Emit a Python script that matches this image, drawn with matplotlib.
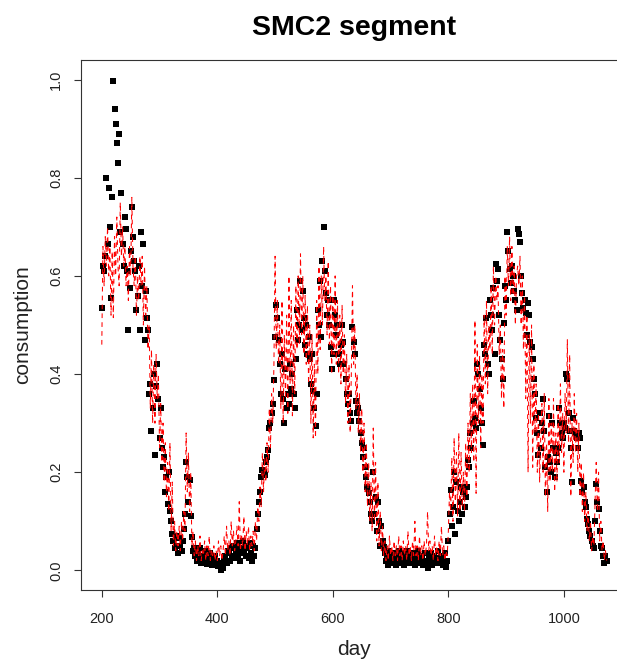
import numpy as np
import matplotlib
matplotlib.use("Agg")
import matplotlib.pyplot as plt

plt.rcParams['font.family'] = ['Liberation Sans', 'DejaVu Sans']

# day grid (every second day)
days = np.arange(200, 1076, 2)

# observed consumption (black squares)
observed = [
    0.535, 0.62, 0.61, 0.64, 0.80, 0.665, 0.78, 0.70, 0.555, 0.76,
    0.998, 0.94, 0.91, 0.87, 0.83, 0.89, 0.69, 0.77, 0.665, 0.62,
    0.72, 0.695, 0.61, 0.49, 0.575, 0.65, 0.74, 0.68, 0.63, 0.61,
    0.53, 0.56, 0.62, 0.49, 0.69, 0.58, 0.665, 0.47, 0.57, 0.515,
    0.49, 0.36, 0.38, 0.285, 0.33, 0.40, 0.235, 0.375, 0.42, 0.35,
    0.27, 0.33, 0.25, 0.21, 0.23, 0.16, 0.19, 0.135, 0.20, 0.12,
    0.10, 0.075, 0.06, 0.045, 0.07, 0.05, 0.035, 0.065, 0.05, 0.04,
    0.06, 0.085, 0.115, 0.22, 0.19, 0.14, 0.185, 0.11, 0.067, 0.04,
    0.045, 0.03, 0.02, 0.035, 0.025, 0.045, 0.015, 0.03, 0.02, 0.04,
    0.025, 0.012, 0.03, 0.018, 0.035, 0.01, 0.025, 0.015, 0.03, 0.01,
    0.02, 0.008, 0.015, 0.0, 0.012, 0.005, 0.02, 0.03, 0.015, 0.04,
    0.035, 0.02, 0.045, 0.03, 0.05, 0.025, 0.04, 0.055, 0.03, 0.045,
    0.02, 0.04, 0.06, 0.035, 0.05, 0.03, 0.045, 0.025, 0.055, 0.035,
    0.02, 0.05, 0.03, 0.045, 0.085, 0.115, 0.14, 0.16, 0.19, 0.205,
    0.20, 0.195, 0.22, 0.23, 0.245, 0.29, 0.30, 0.32, 0.34, 0.387,
    0.475, 0.54, 0.515, 0.47, 0.42, 0.36, 0.44, 0.35, 0.30, 0.41,
    0.33, 0.36, 0.34, 0.42, 0.37, 0.40, 0.36, 0.33, 0.43, 0.53,
    0.47, 0.50, 0.59, 0.49, 0.57, 0.515, 0.46, 0.50, 0.44, 0.475,
    0.43, 0.38, 0.44, 0.365, 0.33, 0.295, 0.36, 0.53, 0.50, 0.59,
    0.475, 0.63, 0.70, 0.61, 0.565, 0.52, 0.55, 0.50, 0.455, 0.41,
    0.44, 0.55, 0.52, 0.48, 0.50, 0.44, 0.42, 0.46, 0.50, 0.465,
    0.42, 0.39, 0.36, 0.34, 0.36, 0.32, 0.305, 0.495, 0.465, 0.44,
    0.345, 0.32, 0.33, 0.305, 0.28, 0.26, 0.23, 0.25, 0.21, 0.19,
    0.17, 0.157, 0.14, 0.115, 0.10, 0.20, 0.115, 0.15, 0.08, 0.14,
    0.10, 0.05, 0.09, 0.06, 0.047, 0.035, 0.02, 0.03, 0.01, 0.04,
    0.025, 0.015, 0.03, 0.02, 0.035, 0.01, 0.025, 0.04, 0.015, 0.03,
    0.02, 0.035, 0.01, 0.025, 0.04, 0.02, 0.03, 0.015, 0.025, 0.035,
    0.02, 0.01, 0.03, 0.02, 0.04, 0.015, 0.025, 0.03, 0.01, 0.02,
    0.035, 0.015, 0.005, 0.025, 0.02, 0.035, 0.01, 0.025, 0.03, 0.015,
    0.02, 0.04, 0.025, 0.015, 0.03, 0.01, 0.02, 0.035, 0.006, 0.02,
    0.06, 0.115, 0.163, 0.09, 0.13, 0.20, 0.075, 0.18, 0.12, 0.10,
    0.14, 0.17, 0.115, 0.16, 0.13, 0.15, 0.17, 0.224, 0.21, 0.28,
    0.25, 0.30, 0.345, 0.31, 0.29, 0.42, 0.40, 0.37, 0.33, 0.30,
    0.255, 0.46, 0.44, 0.515, 0.42, 0.40, 0.55, 0.52, 0.49, 0.575,
    0.44, 0.625, 0.59, 0.615, 0.52, 0.47, 0.43, 0.39, 0.505, 0.58,
    0.55, 0.69, 0.65, 0.615, 0.585, 0.62, 0.60, 0.57, 0.55, 0.53,
    0.695, 0.685, 0.67, 0.60, 0.565, 0.535, 0.55, 0.525, 0.48, 0.545,
    0.52, 0.465, 0.455, 0.43, 0.39, 0.36, 0.31, 0.28, 0.235, 0.32,
    0.25, 0.30, 0.35, 0.285, 0.21, 0.16, 0.23, 0.315, 0.22, 0.20,
    0.30, 0.25, 0.19, 0.24, 0.22, 0.25, 0.33, 0.30, 0.28, 0.27,
    0.30, 0.29, 0.40, 0.39, 0.32, 0.285, 0.25, 0.18, 0.31, 0.285,
    0.28, 0.27, 0.25, 0.28, 0.27, 0.183, 0.16, 0.17, 0.14, 0.13,
    0.105, 0.095, 0.08, 0.07, 0.06, 0.05, 0.045, 0.10, 0.177, 0.14,
    0.125, 0.08, 0.05, 0.045, 0.03, 0.016, 0.03, 0.02,
]

# SMC2 segment prediction (red dashed line)
predicted = [
    0.46, 0.66, 0.58, 0.68, 0.62, 0.70, 0.60, 0.66, 0.52, 0.65,
    0.515, 0.68, 0.60, 0.72, 0.62, 0.58, 0.75, 0.64, 0.70, 0.62,
    0.66, 0.58, 0.62, 0.55, 0.66, 0.60, 0.76, 0.62, 0.58, 0.64,
    0.52, 0.60, 0.55, 0.64, 0.58, 0.64, 0.50, 0.62, 0.52, 0.58,
    0.45, 0.50, 0.33, 0.45, 0.30, 0.42, 0.30, 0.44, 0.35, 0.40,
    0.25, 0.34, 0.22, 0.30, 0.18, 0.26, 0.15, 0.22, 0.12, 0.26,
    0.08, 0.18, 0.05, 0.10, 0.04, 0.08, 0.05, 0.09, 0.04, 0.10,
    0.06, 0.12, 0.08, 0.28, 0.16, 0.24, 0.12, 0.20, 0.05, 0.08,
    0.03, 0.06, 0.02, 0.05, 0.03, 0.07, 0.02, 0.04, 0.03, 0.06,
    0.02, 0.05, 0.03, 0.07, 0.02, 0.04, 0.03, 0.05, 0.02, 0.04,
    0.02, 0.06, 0.03, 0.05, 0.02, 0.04, 0.07, 0.03, 0.09, 0.04,
    0.06, 0.03, 0.10, 0.05, 0.08, 0.04, 0.06, 0.09, 0.05, 0.14,
    0.04, 0.07, 0.05, 0.11, 0.04, 0.08, 0.05, 0.09, 0.04, 0.07,
    0.05, 0.08, 0.04, 0.10, 0.06, 0.13, 0.10, 0.17, 0.13, 0.24,
    0.16, 0.23, 0.18, 0.26, 0.20, 0.33, 0.25, 0.36, 0.30, 0.42,
    0.64, 0.45, 0.55, 0.42, 0.50, 0.33, 0.55, 0.30, 0.48, 0.35,
    0.52, 0.32, 0.60, 0.38, 0.55, 0.315, 0.50, 0.36, 0.58, 0.45,
    0.60, 0.46, 0.645, 0.48, 0.60, 0.44, 0.56, 0.42, 0.54, 0.38,
    0.50, 0.30, 0.48, 0.27, 0.42, 0.27, 0.55, 0.40, 0.62, 0.45,
    0.60, 0.50, 0.66, 0.55, 0.60, 0.48, 0.63, 0.46, 0.58, 0.40,
    0.56, 0.44, 0.60, 0.42, 0.55, 0.40, 0.52, 0.38, 0.54, 0.40,
    0.48, 0.34, 0.44, 0.30, 0.42, 0.28, 0.40, 0.58, 0.42, 0.50,
    0.33, 0.40, 0.28, 0.36, 0.24, 0.33, 0.20, 0.30, 0.16, 0.26,
    0.13, 0.22, 0.10, 0.18, 0.08, 0.29, 0.10, 0.22, 0.06, 0.18,
    0.05, 0.12, 0.04, 0.09, 0.03, 0.06, 0.02, 0.05, 0.02, 0.07,
    0.03, 0.05, 0.02, 0.06, 0.03, 0.05, 0.02, 0.07, 0.03, 0.05,
    0.02, 0.06, 0.03, 0.05, 0.02, 0.08, 0.03, 0.05, 0.02, 0.06,
    0.03, 0.10, 0.03, 0.05, 0.02, 0.07, 0.03, 0.05, 0.02, 0.06,
    0.03, 0.05, 0.12, 0.04, 0.06, 0.03, 0.05, 0.02, 0.07, 0.03,
    0.05, 0.02, 0.06, 0.03, 0.09, 0.03, 0.05, 0.02, 0.04, 0.03,
    0.08, 0.16, 0.12, 0.23, 0.10, 0.27, 0.14, 0.24, 0.11, 0.28,
    0.12, 0.24, 0.13, 0.20, 0.12, 0.26, 0.15, 0.30, 0.20, 0.36,
    0.24, 0.38, 0.22, 0.51, 0.157, 0.46, 0.30, 0.44, 0.25, 0.40,
    0.30, 0.52, 0.38, 0.55, 0.36, 0.50, 0.45, 0.58, 0.44, 0.62,
    0.50, 0.60, 0.55, 0.58, 0.44, 0.50, 0.35, 0.45, 0.33, 0.60,
    0.52, 0.66, 0.58, 0.68, 0.55, 0.66, 0.56, 0.62, 0.50, 0.60,
    0.62, 0.58, 0.64, 0.50, 0.60, 0.45, 0.56, 0.35, 0.52, 0.20,
    0.48, 0.30, 0.50, 0.21, 0.42, 0.28, 0.38, 0.20, 0.32, 0.18,
    0.28, 0.34, 0.20, 0.36, 0.15, 0.26, 0.12, 0.35, 0.18, 0.30,
    0.20, 0.35, 0.16, 0.28, 0.18, 0.34, 0.22, 0.38, 0.24, 0.32,
    0.20, 0.36, 0.28, 0.47, 0.26, 0.44, 0.15, 0.30, 0.22, 0.36,
    0.24, 0.32, 0.20, 0.30, 0.15, 0.22, 0.12, 0.20, 0.10, 0.16,
    0.08, 0.12, 0.06, 0.10, 0.04, 0.07, 0.05, 0.14, 0.22, 0.12,
    0.20, 0.06, 0.10, 0.04, 0.06, 0.02, 0.04, 0.02,
]

x_ticks = [200, 400, 600, 800, 1000]
y_ticks = [0.0, 0.2, 0.4, 0.6, 0.8, 1.0]
y_tick_labels = ["0.0", "0.2", "0.4", "0.6", "0.8", "1.0"]

W, H = 617, 664
fig = plt.figure(figsize=(W / 100, H / 100), dpi=100)
# axes box: left edge at px 81, right edge beyond the picture (px ~628), top px 60, bottom px 590
ax = fig.add_axes([81 / W, (H - 590) / H, (628 - 81) / W, (590 - 60) / H])

ax.plot(days, observed, linestyle='none', marker='s', markersize=4.6,
        markeredgewidth=0, color='black', zorder=2)
ax.plot(days, predicted, color='red', linewidth=0.75, linestyle=(0, (4.5, 4)), zorder=3)

ax.set_xlim(164, 1111)
ax.set_ylim(-0.04, 1.04)
ax.set_xticks(x_ticks)
ax.set_xticklabels([str(t) for t in x_ticks])
ax.set_yticks(y_ticks)
ax.set_yticklabels(y_tick_labels, rotation=90, va='center')

for s in ax.spines.values():
    s.set_linewidth(0.8)
    s.set_color('#333333')
ax.tick_params(axis='both', length=5, width=0.8, colors='#333333', labelsize=10.5,
               labelcolor='#222222')
ax.tick_params(axis='x', pad=11)
ax.tick_params(axis='y', pad=8)

ax.set_xlabel('day', fontsize=15, labelpad=10, color='#222222')
ax.set_ylabel('consumption', fontsize=15, labelpad=12, color='#222222')

fig.text(354 / W, 1 - 28 / H, 'SMC2 segment', ha='center', va='center',
         fontsize=20.5, fontweight='bold', color='black')

fig.savefig('out.png', dpi=100)
